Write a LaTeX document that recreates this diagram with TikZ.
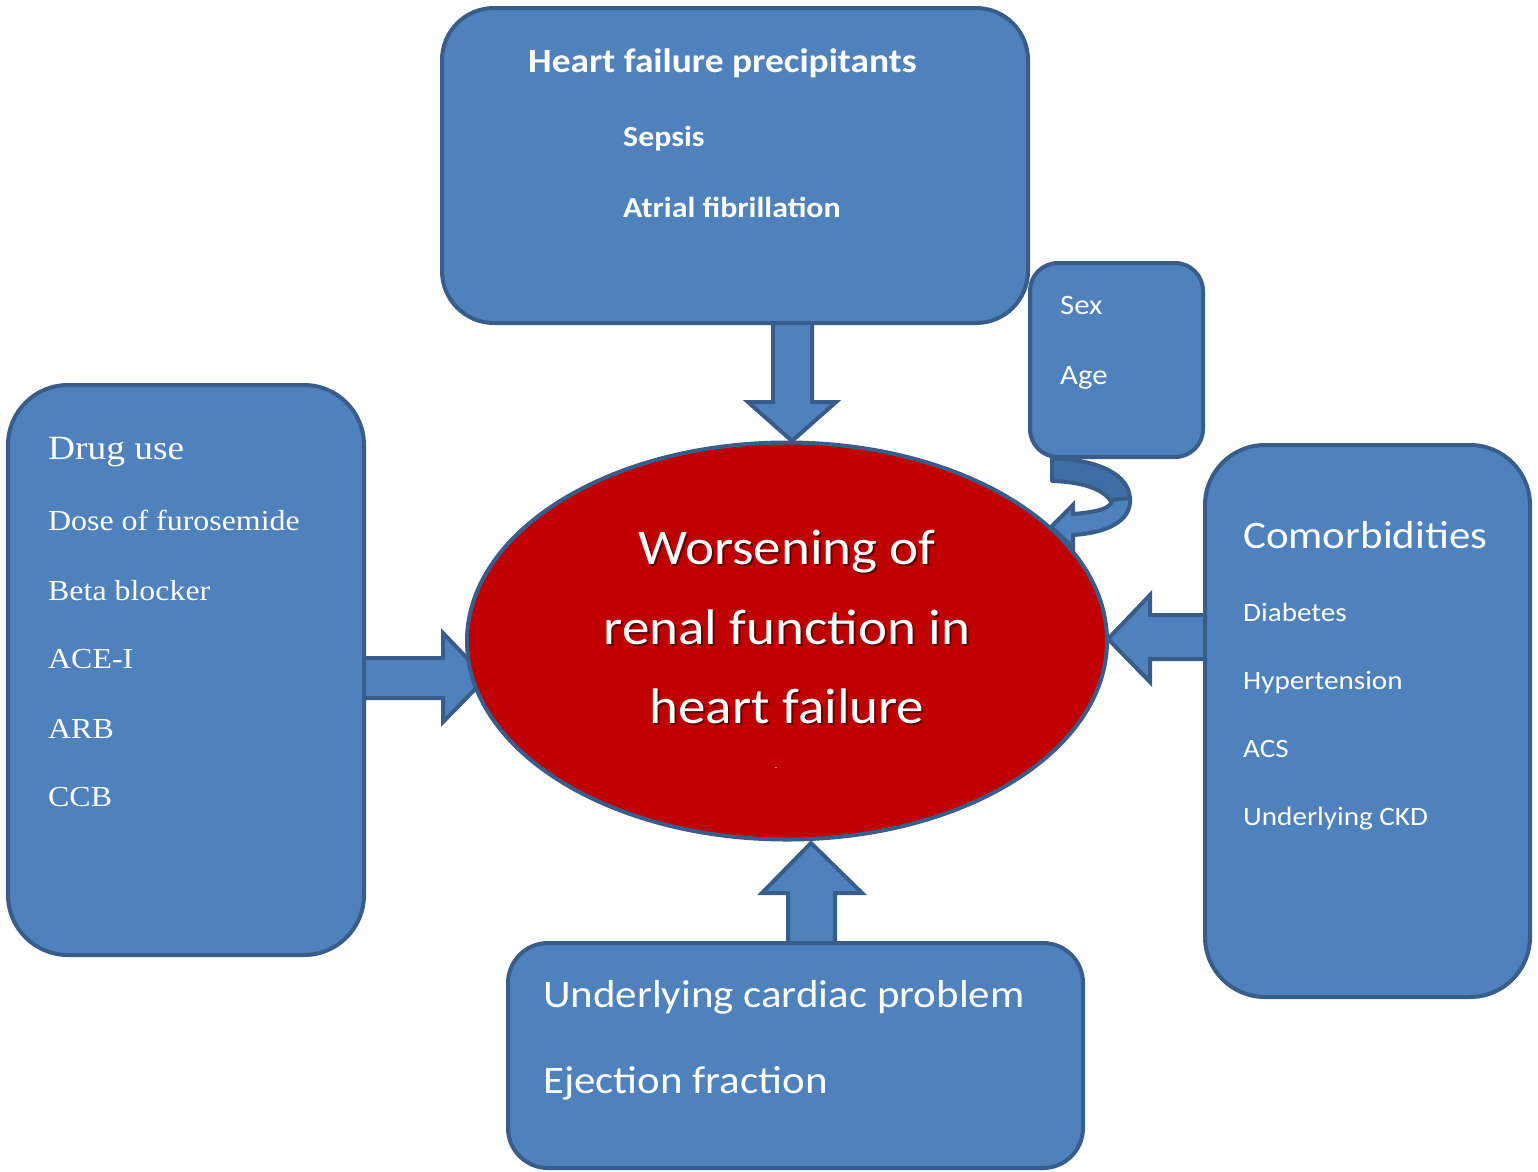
\documentclass[tikz,border=0pt]{standalone}
\usepackage{fontspec}
\setmainfont{Carlito}[FakeStretch=1.1]
\newfontfamily\timesf{Liberation Serif}[FakeStretch=1.1]
\usetikzlibrary{shapes.geometric}
\definecolor{boxfill}{HTML}{4F81BD}
\definecolor{boxline}{HTML}{385D8A}
\definecolor{boxdark}{HTML}{3F6DA6}
\definecolor{ellred}{HTML}{C00000}
\tikzset{
  box/.style={draw=boxline, line width=4pt, fill=boxfill, rectangle, inner sep=0pt},
  blockarrow/.style={draw=boxline, line width=4pt, fill=boxfill, line join=miter},
  txt/.style={text=white, anchor=base west, inner sep=0pt},
  etxt/.style={text=white, anchor=base, inner sep=0pt, font=\fontsize{50}{54}\selectfont},
  eshadow/.style={text=black, opacity=0.45, anchor=base, inner sep=0pt, font=\fontsize{50}{54}\selectfont},
}
\begin{document}
\begin{tikzpicture}[x=1pt,y=-1pt]
\useasboundingbox (0,0) rectangle (1538,1171);

% block arrows
\draw[blockarrow] (773,321) -- (773,402) -- (748,402) -- (792,441) -- (836,402) -- (812,402) -- (812,321) -- cycle;
\draw[blockarrow] (362,658) -- (443,658) -- (443,633) -- (486,678) -- (443,722) -- (443,698) -- (362,698) -- cycle;
\draw[blockarrow] (1207,615) -- (1150,615) -- (1150,595) -- (1108,639) -- (1150,682) -- (1150,659) -- (1207,659) -- cycle;
\draw[blockarrow] (788,945) -- (788,893) -- (762,893) -- (811,843) -- (862,893) -- (835,893) -- (835,945) -- cycle;

% boxes
\node[box, rounded corners=52pt, minimum width=586pt, minimum height=315pt] (prec) at (735,165.5) {};
\node[box, rounded corners=28pt, minimum width=173pt, minimum height=194pt] (sexage) at (1116.5,360) {};
\node[box, rounded corners=60pt, minimum width=356pt, minimum height=570pt] (drug) at (186,670) {};
\node[box, rounded corners=60pt, minimum width=325pt, minimum height=552pt] (comorb) at (1367.5,721) {};
\node[box, rounded corners=40pt, minimum width=575pt, minimum height=225pt] (cardiac) at (795.5,1055.5) {};

% curved arrow from Sex/Age box
\fill[boxdark, draw=boxline, line width=4pt, line join=round]
  (1052,458) .. controls (1100,460) and (1130,475) .. (1130,500)
  -- (1112,503) .. controls (1105,490) and (1085,482) .. (1052,481) -- cycle;
\fill[boxfill, draw=boxline, line width=4pt, line join=miter]
  (1130,498) .. controls (1132,522) and (1105,533) .. (1073,535)
  -- (1073,547) -- (1051,527) -- (1073,505) -- (1073,514)
  .. controls (1098,512) and (1112,508) .. (1112,500) -- cycle;

% central ellipse
\node[ellipse, draw=boxline, line width=4pt, fill=ellred, minimum width=640pt, minimum height=397pt, inner sep=0pt] (wrf) at (787,641) {};
\node[eshadow] (s1) at (789,566) {Worsening of};
\node[eshadow] (s2) at (789,646) {renal function in};
\node[eshadow] (s3) at (789,725) {heart failure};
\node[etxt] (w1) at (787,564) {Worsening of};
\node[etxt] (w2) at (787,644) {renal function in};
\node[etxt] (w3) at (787,723) {heart failure};
\node[text=white, inner sep=0pt, font=\fontsize{8}{8}\selectfont] (dash) at (776,769) {-};

% texts: precipitants
\node[txt, font=\bfseries\fontsize{34}{40}\selectfont] (t1) at (528,72) {Heart failure precipitants};
\node[txt, font=\bfseries\fontsize{29}{34}\selectfont] (t2) at (623,146) {Sepsis};
\node[txt, font=\bfseries\fontsize{29}{34}\selectfont] (t3) at (623,217) {Atrial fibrillation};

% sex / age
\node[txt, font=\fontsize{28}{32}\selectfont] (t4) at (1060,314) {Sex};
\node[txt, font=\fontsize{28}{32}\selectfont] (t5) at (1060,384) {Age};

% drug use
\node[txt, font=\timesf\fontsize{34}{40}\selectfont] (d0) at (48,459) {Drug use};
\node[txt, font=\timesf\fontsize{29}{34}\selectfont] (d1) at (48,530) {Dose of furosemide};
\node[txt, font=\timesf\fontsize{29}{34}\selectfont] (d2) at (48,600) {Beta blocker};
\node[txt, font=\timesf\fontsize{29}{34}\selectfont] (d3) at (48,668) {ACE-I};
\node[txt, font=\timesf\fontsize{29}{34}\selectfont] (d4) at (48,738) {ARB};
\node[txt, font=\timesf\fontsize{29}{34}\selectfont] (d5) at (48,806) {CCB};

% comorbidities
\node[txt, font=\fontsize{39}{44}\selectfont] (c0) at (1243,548) {Comorbidities};
\node[txt, font=\fontsize{26.5}{30}\selectfont] (c1) at (1243,621) {Diabetes};
\node[txt, font=\fontsize{26.5}{30}\selectfont] (c2) at (1243,689) {Hypertension};
\node[txt, font=\fontsize{26.5}{30}\selectfont] (c3) at (1243,757) {ACS};
\node[txt, font=\fontsize{26.5}{30}\selectfont] (c4) at (1243,825) {Underlying CKD};

% cardiac
\node[txt, font=\fontsize{39}{44}\selectfont] (u1) at (543,1007) {Underlying cardiac problem};
\node[txt, font=\fontsize{39}{44}\selectfont] (u2) at (543,1093) {Ejection fraction};
\end{tikzpicture}
\end{document}
